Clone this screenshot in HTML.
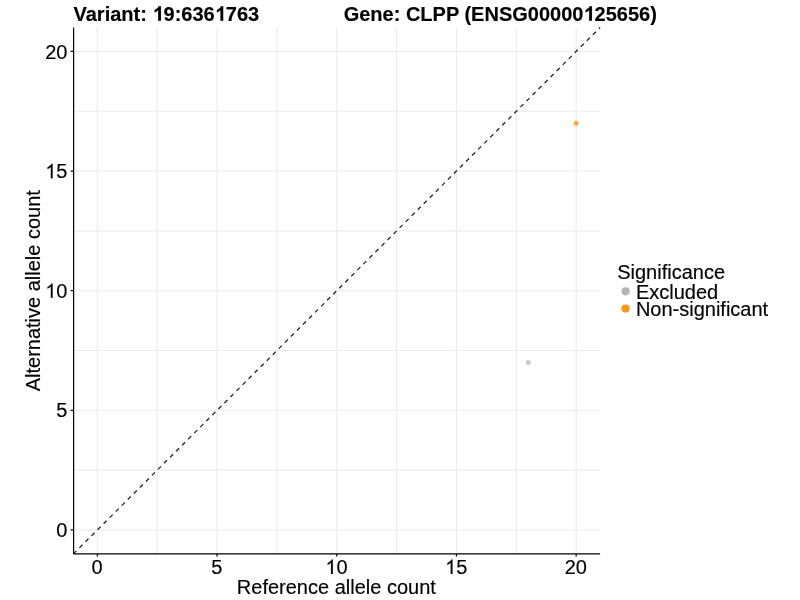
<!DOCTYPE html>
<html><head><meta charset="utf-8">
<style>
html,body{margin:0;padding:0;background:#fff;width:800px;height:600px;overflow:hidden}
svg{display:block;will-change:transform}
text{font-family:"Liberation Sans",sans-serif;font-size:20px;fill:#000;stroke:#000;stroke-width:0.15px}
.h{fill-opacity:0;stroke-opacity:0}
</style></head><body>
<svg width="800" height="600" viewBox="0 0 800 600">
<rect width="800" height="600" fill="#fff"/>
<g stroke="#EBEBEB" stroke-width="1.07" fill="none">
<path d="M97.35 27.53V553.88M157.20 27.53V553.88M217.05 27.53V553.88M276.90 27.53V553.88M336.75 27.53V553.88M396.60 27.53V553.88M456.45 27.53V553.88M516.30 27.53V553.88M576.15 27.53V553.88"/>
<path d="M73.41 529.95H600.09M73.41 470.14H600.09M73.41 410.33H600.09M73.41 350.51H600.09M73.41 290.70H600.09M73.41 230.89H600.09M73.41 171.08H600.09M73.41 111.26H600.09M73.41 51.45H600.09"/>
</g>
<line x1="73.41" y1="553.88" x2="600.09" y2="27.53" stroke="#262626" stroke-width="1.3" stroke-dasharray="4.27 4.27"/>
<circle cx="528.27" cy="362.48" r="2.5" fill="#B3B3B3" fill-opacity="0.7"/>
<circle cx="576.15" cy="123.23" r="2.5" fill="#FF940E" fill-opacity="0.8"/>
<g stroke="#000" stroke-width="1.2" fill="none">
<path d="M73.61 27.53V553.88"/>
<path d="M73.41 553.88H600.09"/>
<path d="M70.66 529.95H73.41M70.66 410.33H73.41M70.66 290.70H73.41M70.66 171.08H73.41M70.66 51.45H73.41"/>
<path d="M97.35 553.88V556.62M217.05 553.88V556.62M336.75 553.88V556.62M456.45 553.88V556.62M576.15 553.88V556.62"/>
</g>
<text id="t0" x="67.40" y="58.55" text-anchor="end">20</text>
<text id="t1" x="67.40" y="178.18" text-anchor="end"><tspan class="h">1</tspan>5</text>
<text id="t2" x="67.40" y="297.80" text-anchor="end"><tspan class="h">1</tspan>0</text>
<text id="t3" x="67.40" y="417.43" text-anchor="end">5</text>
<text id="t4" x="67.40" y="537.05" text-anchor="end">0</text>
<text id="t5" x="97.05" y="573.90" text-anchor="middle">0</text>
<text id="t6" x="216.75" y="573.90" text-anchor="middle">5</text>
<text id="t7" x="336.45" y="573.90" text-anchor="middle"><tspan class="h">1</tspan>0</text>
<text id="t8" x="456.15" y="573.90" text-anchor="middle"><tspan class="h">1</tspan>5</text>
<text id="t9" x="575.85" y="573.90" text-anchor="middle">20</text>
<text id="t10" x="336.35" y="593.80" text-anchor="middle">Reference allele count</text>
<text id="t11" transform="translate(39.6 290.70) rotate(-90)" text-anchor="middle">Alternative allele count</text>
<text id="t12" x="73.50" y="20.70" font-weight="bold">Variant: <tspan class="h">1</tspan>9:636<tspan class="h">1</tspan>763</text>
<text id="t13" x="343.70" y="20.70" font-weight="bold">Gene: CLPP (ENSG00000<tspan class="h">1</tspan>25656)</text>
<text id="t14" x="617.20" y="278.70">Significance</text>
<text id="t15" x="635.90" y="298.70">Excluded</text>
<text id="t16" x="635.90" y="315.80">Non-significant</text>
<g fill="#000" stroke="#000">
<path transform="translate(45.15 178.18) scale(0.009766 -0.009766)" stroke-width="15.4" d="M763 0L583 0L583 1147Q518 1085 412 1023Q306 961 240 941L240 1115Q395 1188 506 1287Q617 1385 666 1472L763 1472Z"/>
<path transform="translate(45.15 297.80) scale(0.009766 -0.009766)" stroke-width="15.4" d="M763 0L583 0L583 1147Q518 1085 412 1023Q306 961 240 941L240 1115Q395 1188 506 1287Q617 1385 666 1472L763 1472Z"/>
<path transform="translate(325.33 573.90) scale(0.009766 -0.009766)" stroke-width="15.4" d="M763 0L583 0L583 1147Q518 1085 412 1023Q306 961 240 941L240 1115Q395 1188 506 1287Q617 1385 666 1472L763 1472Z"/>
<path transform="translate(445.02 573.90) scale(0.009766 -0.009766)" stroke-width="15.4" d="M763 0L583 0L583 1147Q518 1085 412 1023Q306 961 240 941L240 1115Q395 1188 506 1287Q617 1385 666 1472L763 1472Z"/>
<path transform="translate(152.42 20.70) scale(0.009766 -0.009766)" stroke-width="15.4" d="M870 0L589 0L589 1060Q435 916 226 847L226 1102Q336 1138 465 1238Q594 1338 642 1472L870 1472Z"/>
<path transform="translate(214.70 20.70) scale(0.009766 -0.009766)" stroke-width="15.4" d="M870 0L589 0L589 1060Q435 916 226 847L226 1102Q336 1138 465 1238Q594 1338 642 1472L870 1472Z"/>
<path transform="translate(583.43 20.70) scale(0.009766 -0.009766)" stroke-width="15.4" d="M870 0L589 0L589 1060Q435 916 226 847L226 1102Q336 1138 465 1238Q594 1338 642 1472L870 1472Z"/>
</g>
<circle cx="625.6" cy="291.3" r="4.1" fill="#B3B3B3"/>
<circle cx="625.6" cy="308.6" r="4.1" fill="#FF940E"/>
</svg>
</body></html>
